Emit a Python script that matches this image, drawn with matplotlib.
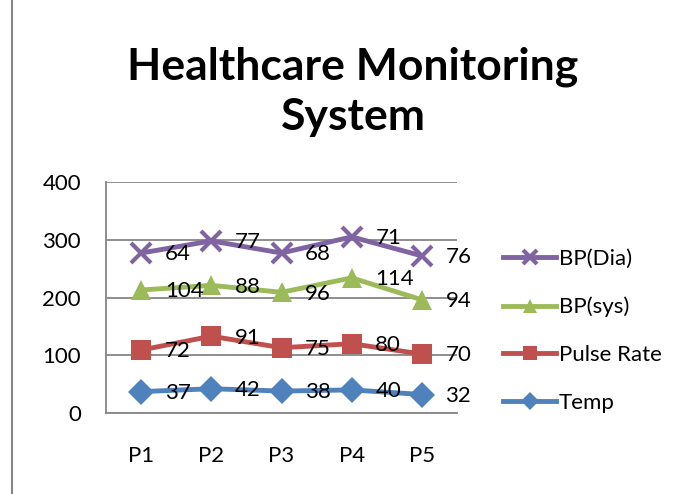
import matplotlib.pyplot as plt
import numpy as np

# data (stacked line chart, labels show raw values)
points = ['P1', 'P2', 'P3', 'P4', 'P5']
temp = [37, 42, 38, 40, 32]
pulse = [72, 91, 75, 80, 70]
bp_sys = [104, 88, 96, 114, 94]
bp_dia = [64, 77, 68, 71, 76]

series = [
    ('Temp', temp, '#4F81BD', 'D', 13),
    ('Pulse Rate', pulse, '#C0504D', 's', 14),
    ('BP(sys)', bp_sys, '#9BBB59', '^', 14),
    ('BP(Dia)', bp_dia, '#8064A2', 'x', 14),
]

plt.rcParams['font.family'] = ['Lato', 'DejaVu Sans']

fig = plt.figure(figsize=(6.83, 4.94), dpi=100)
ax = fig.add_axes([106 / 683, 1 - 413 / 494, 351 / 683, 231 / 494])

x = np.arange(len(points))
base = np.zeros(len(points))
handles = []
for name, vals, color, marker, ms in series:
    top = base + np.array(vals)
    line, = ax.plot(x, top, color=color, lw=3.5, marker=marker, markersize=ms,
                    markeredgewidth=3 if marker == 'x' else 0,
                    markeredgecolor=color, label=name, zorder=3)
    handles.append(line)
    for xi, yi, v in zip(x, top, vals):
        ax.annotate(str(v), (xi, yi), xytext=(17, -1), textcoords='offset points',
                    ha='left', va='center', fontsize=16, color='black', zorder=4)
    base = top

ax.set_xlim(-0.5, 4.5)
ax.set_ylim(0, 400)
ax.set_yticks([0, 100, 200, 300, 400])
ax.set_xticks(x)
ax.set_xticklabels(points)
ax.tick_params(axis='both', labelsize=16, length=0, colors='black')
ax.tick_params(axis='y', pad=18)
ax.tick_params(axis='x', pad=24)
ax.grid(axis='y', color='#868686', lw=1.3)
ax.set_axisbelow(True)
for side in ['top', 'right']:
    ax.spines[side].set_visible(False)
for side in ['left', 'bottom']:
    ax.spines[side].set_color('#868686')
    ax.spines[side].set_linewidth(1.3)

fig.text(353 / 683, 1 - 92 / 494, 'Healthcare Monitoring\nSystem', ha='center', va='center',
         fontsize=32, fontweight='bold', linespacing=1.3)

leg = fig.legend(handles[::-1], [h.get_label() for h in handles[::-1]],
                 loc='upper left', bbox_to_anchor=(483 / 683, 1 - 229 / 494),
                 frameon=False, fontsize=16, handlelength=2.4, handletextpad=0.1,
                 labelspacing=1.25, markerscale=0.7)

# chart border on the left
fig.add_artist(plt.Line2D([12 / 683, 12 / 683], [0, 1], color='#868686', lw=1.5))

fig.savefig('out.png', dpi=100)
